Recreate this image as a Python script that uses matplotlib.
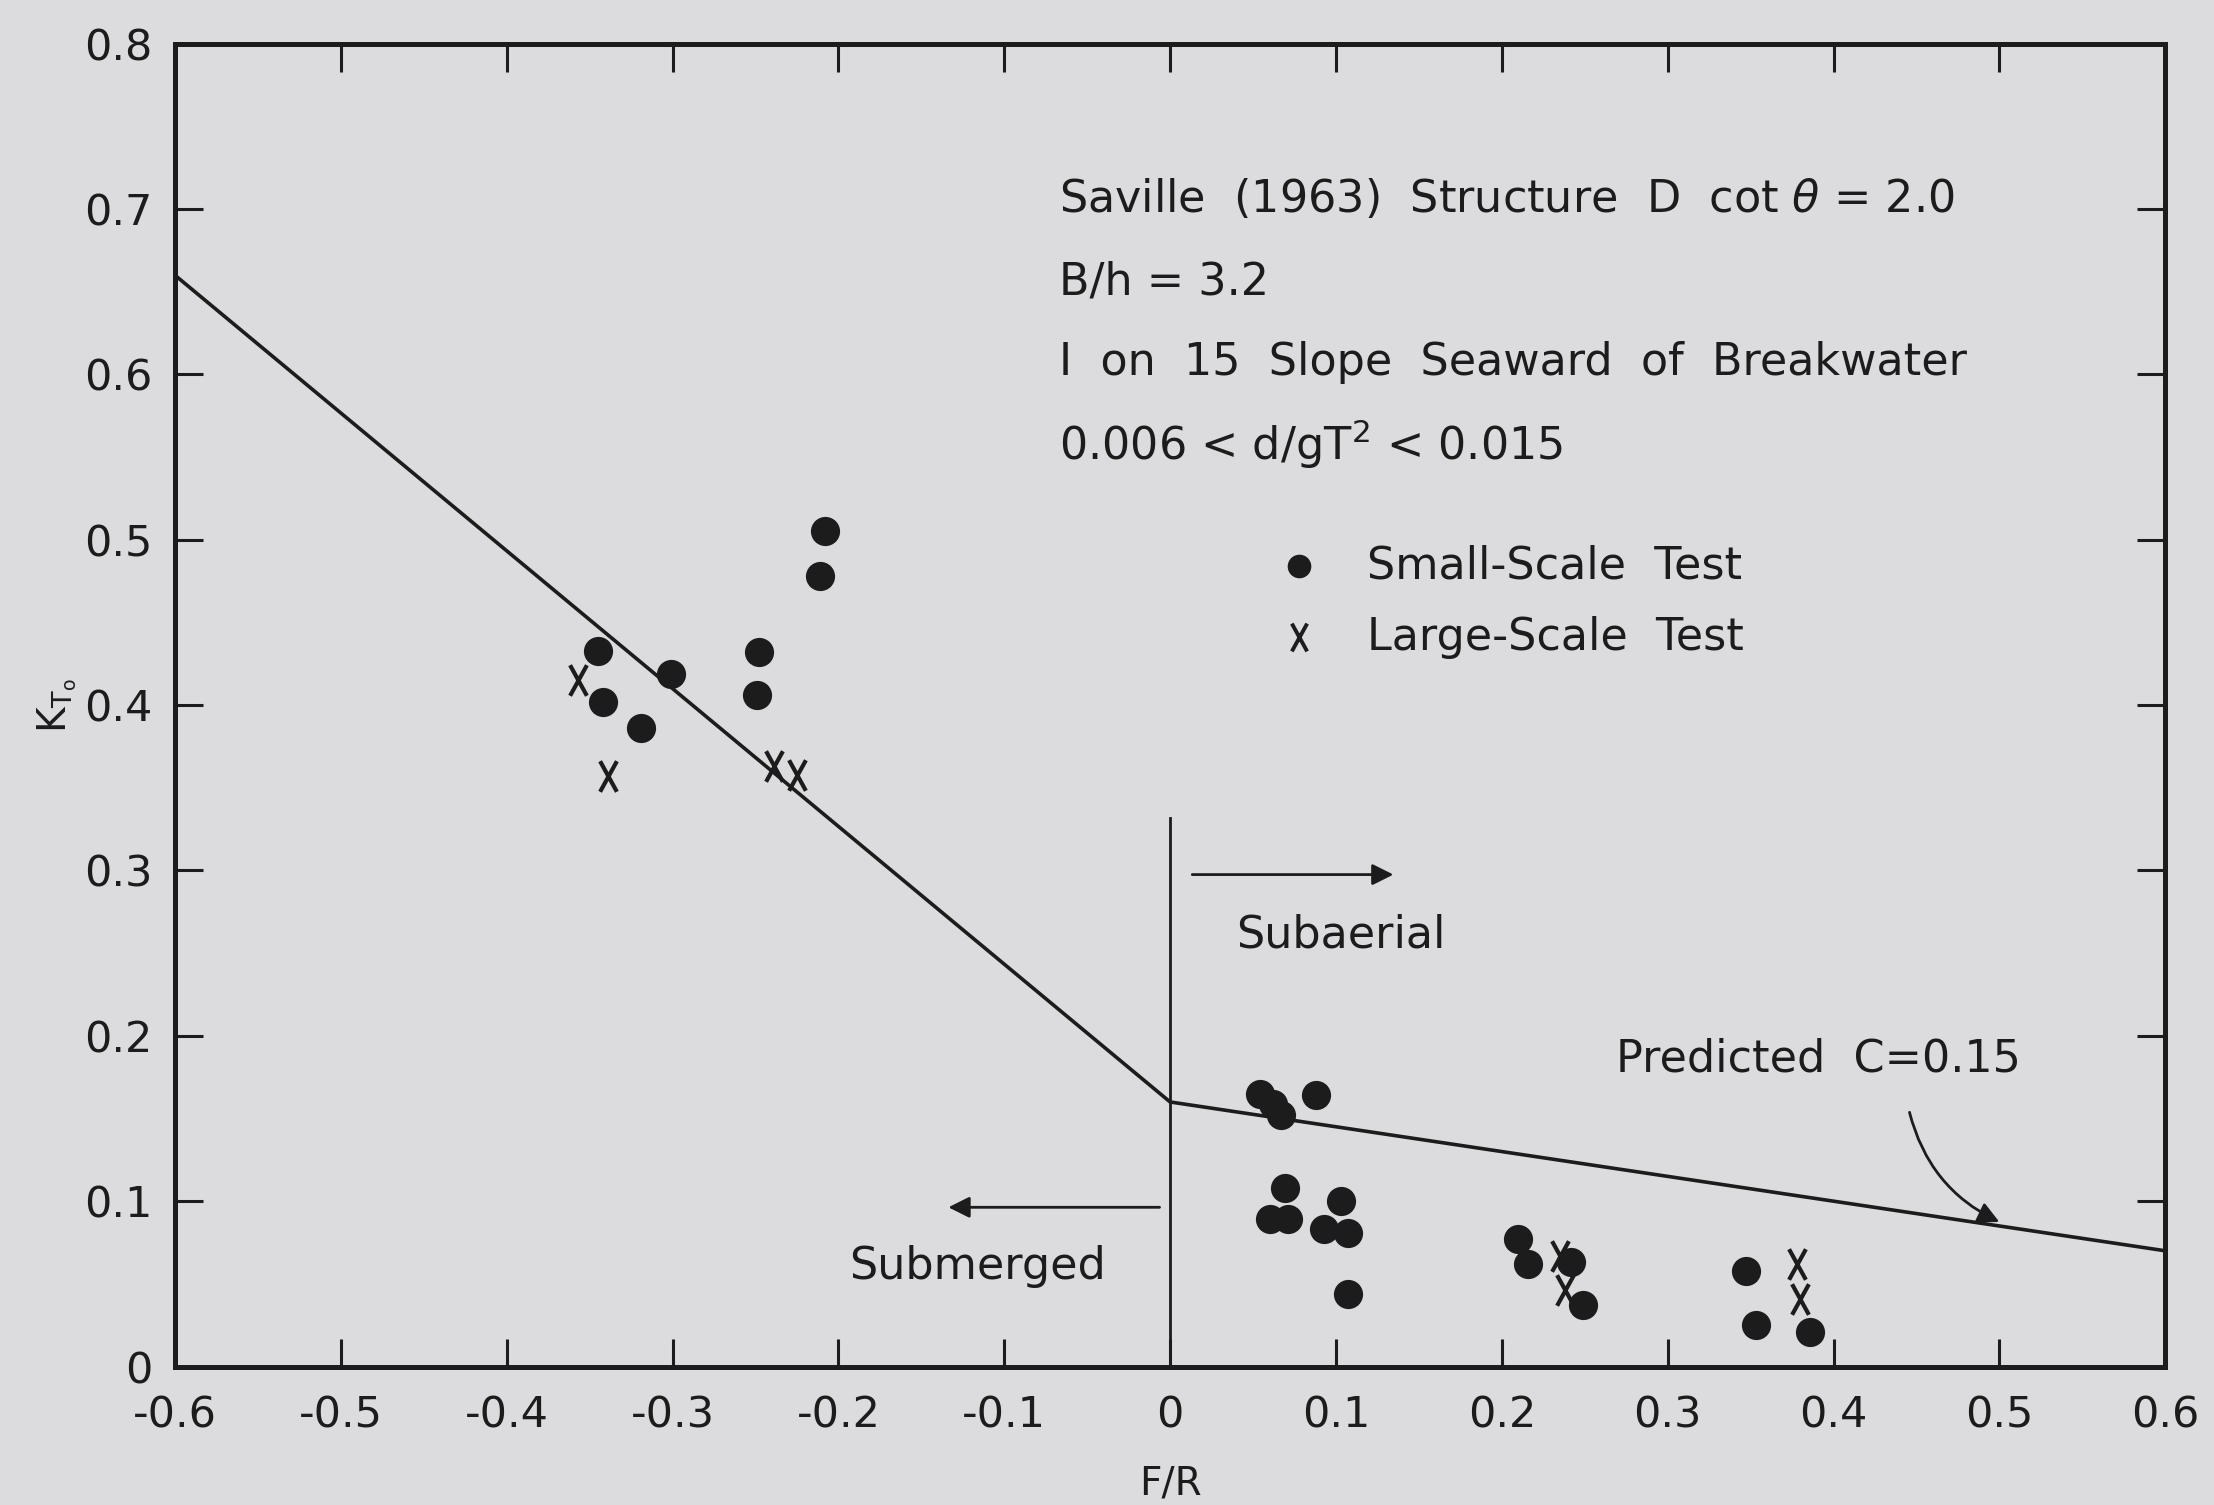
import matplotlib
matplotlib.use('Agg')
import matplotlib.pyplot as plt
from matplotlib.path import Path

# predicted curve C = 0.15
pred_x = [-0.6, 0.0, 0.6]
pred_y = [0.66, 0.16, 0.07]

# small-scale test (dots)
small_x = [-0.345, -0.342, -0.319, -0.301, -0.248, -0.249, -0.208, -0.211,
           0.054, 0.062, 0.067, 0.088, 0.069, 0.060, 0.071, 0.103, 0.093, 0.107, 0.107,
           0.210, 0.216, 0.242, 0.249, 0.347, 0.353, 0.386]
small_y = [0.433, 0.402, 0.386, 0.419, 0.432, 0.406, 0.505, 0.478,
           0.165, 0.159, 0.152, 0.164, 0.108, 0.089, 0.089, 0.100, 0.083, 0.081, 0.044,
           0.077, 0.062, 0.063, 0.037, 0.058, 0.025, 0.021]

# large-scale test (x)
large_x = [-0.357, -0.339, -0.239, -0.225, 0.235, 0.238, 0.378, 0.380]
large_y = [0.415, 0.357, 0.363, 0.358, 0.067, 0.046, 0.062, 0.041]

xticks = [-0.6, -0.5, -0.4, -0.3, -0.2, -0.1, 0, 0.1, 0.2, 0.3, 0.4, 0.5, 0.6]
xlabels = ['-0.6', '-0.5', '-0.4', '-0.3', '-0.2', '-0.1', '0', '0.1', '0.2', '0.3', '0.4', '0.5', '0.6']
yticks = [0, 0.1, 0.2, 0.3, 0.4, 0.5, 0.6, 0.7, 0.8]
ylabels = ['0', '0.1', '0.2', '0.3', '0.4', '0.5', '0.6', '0.7', '0.8']

bg = '#dcdcde'
ink = '#1c1c1c'

plt.rcParams['font.family'] = 'DejaVu Sans'

fig = plt.figure(figsize=(11.07, 7.525), dpi=200, facecolor=bg)
ax = fig.add_axes([0.079, 0.092, 0.899, 0.879], facecolor=bg)

ax.plot(pred_x, pred_y, color=ink, lw=1.3)
ax.plot([0, 0], [0, 0.332], color=ink, lw=1.0)

# tall narrow "X" like the typed marks in the scan
xmark = Path([(-0.55, -1), (0.55, 1), (-0.55, 1), (0.55, -1)],
             [Path.MOVETO, Path.LINETO, Path.MOVETO, Path.LINETO])
ax.plot(small_x, small_y, 'o', color=ink, ms=9.5, ls='none', zorder=3)
ax.plot(large_x, large_y, marker=xmark, color=ink, ms=11, mew=1.5, ls='none', zorder=3)

ax.set_xlim(-0.6, 0.6)
ax.set_ylim(0, 0.8)
ax.set_xticks(xticks)
ax.set_xticklabels(xlabels)
ax.set_yticks(yticks)
ax.set_yticklabels(ylabels)
ax.tick_params(direction='in', length=10, width=1.1, colors=ink, labelsize=15.5,
               top=True, right=True)
ax.tick_params(axis='x', pad=10)
ax.tick_params(axis='y', pad=8)
for s in ax.spines.values():
    s.set_linewidth(1.8)
    s.set_color(ink)

ax.set_xlabel('F/R', fontsize=14, color=ink, labelpad=10)
ax.set_ylabel(r'K$_{\mathregular{T_o}}$', fontsize=14, color=ink, labelpad=2)

fs = 16
ax.text(-0.067, 0.706, r'Saville  (1963)  Structure  D  cot $\theta$ = 2.0', fontsize=fs, color=ink, va='center')
ax.text(-0.067, 0.656, 'B/h = 3.2', fontsize=fs, color=ink, va='center')
ax.text(-0.067, 0.607, 'I  on  15  Slope  Seaward  of  Breakwater', fontsize=fs, color=ink, va='center')
ax.text(-0.067, 0.558, r'0.006 < d/gT$^{\mathregular{2}}$ < 0.015', fontsize=fs, color=ink, va='center')

ax.plot([0.078], [0.484], 'o', color=ink, ms=7.5)
ax.text(0.119, 0.484, 'Small-Scale  Test', fontsize=fs, color=ink, va='center')
ax.plot([0.078], [0.441], marker=xmark, color=ink, ms=10, mew=1.4)
ax.text(0.119, 0.441, 'Large-Scale  Test', fontsize=fs, color=ink, va='center')

arr = dict(arrowstyle='-|>', color=ink, lw=1.0, mutation_scale=16)
ax.annotate('', xy=(0.138, 0.2975), xytext=(0.01, 0.2975), arrowprops=arr)
ax.text(0.103, 0.261, 'Subaerial', fontsize=fs, color=ink, ha='center', va='center')
ax.annotate('', xy=(-0.137, 0.0963), xytext=(-0.003, 0.0963), arrowprops=arr)
ax.text(-0.116, 0.0605, 'Submerged', fontsize=fs, color=ink, ha='center', va='center')

ax.text(0.269, 0.186, 'Predicted  C=0.15', fontsize=fs, color=ink, va='center')
ax.annotate('', xy=(0.503, 0.086), xytext=(0.445, 0.157),
            arrowprops=dict(arrowstyle='-|>', color=ink, lw=1.0, mutation_scale=16,
                            connectionstyle='arc3,rad=0.25'))

fig.savefig('out.png', dpi=200, facecolor=bg)
